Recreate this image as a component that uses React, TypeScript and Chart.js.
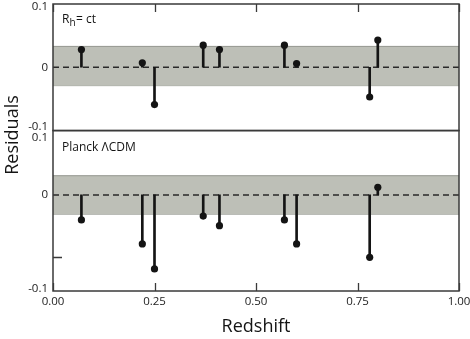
import React, { useEffect, useRef } from "react";
import { Chart, registerables } from "chart.js";

Chart.register(...registerables);

// ---- data ----
const redshift = [0.07, 0.22, 0.25, 0.37, 0.41, 0.57, 0.6, 0.78, 0.8];
const rhResiduals = [0.028, 0.007, -0.059, 0.035, 0.028, 0.035, 0.006, -0.047, 0.043];
const lcdmResiduals = [-0.026, -0.051, -0.077, -0.022, -0.032, -0.026, -0.051, -0.065, 0.008];

const rhBand = [-0.029, 0.033];
const lcdmBand = [-0.02, 0.02];

const xRange = [0, 1];
const xTickValues = [0, 0.25, 0.5, 0.75, 1];
const topRange = [-0.1, 0.1];
const topTickValues = [-0.094, 0, 0.095];
const topTickLabels = ["-0.1", "0", "0.1"];
const botRange = [-0.1, 0.067];
const botTickValues = [-0.098, 0, 0.06];
const botTickLabels = ["-0.1", "0", "0.1"];
const botMinorTicks = [-0.065];

const panelTitles = ["Planck \u039BCDM"];

const FONT = "'Open Sans', 'DejaVu Sans', sans-serif";
const INK = "#141414";
const FRAME = "#3a3a3a";
const BAND = "#bdbfb7";
const BAND_EDGE = "#94968f";

const stems = (vals: number[]) => redshift.map((x, i) => ({ x, y: [0, vals[i]] }));
const dots = (vals: number[]) => redshift.map((x, i) => ({ x, y: vals[i] }));
const hline = (v: number) => [
  { x: xRange[0], y: v },
  { x: xRange[1], y: v },
];

const decorPlugin = {
  id: "decor",
  afterDatasetsDraw(chart: any) {
    const ctx = chart.ctx as CanvasRenderingContext2D;
    const { left, right } = chart.chartArea;
    const xs = chart.scales.x;
    const yT = chart.scales.yTop;
    const yB = chart.scales.yBot;
    ctx.save();
    ctx.strokeStyle = FRAME;
    ctx.lineWidth = 1.5;
    for (const s of [yT, yB]) {
      ctx.strokeRect(left, s.top, right - left, s.bottom - s.top);
    }
    ctx.lineWidth = 1.3;
    ctx.beginPath();
    for (const v of xTickValues) {
      const px = Math.round(xs.getPixelForValue(v)) + 0.5;
      ctx.moveTo(px, yT.top);
      ctx.lineTo(px, yT.top + 8);
      ctx.moveTo(px, yB.bottom);
      ctx.lineTo(px, yB.bottom - 8);
    }
    for (const v of botMinorTicks) {
      const py = Math.round(yB.getPixelForValue(v)) + 0.5;
      ctx.moveTo(left, py);
      ctx.lineTo(left + 9, py);
    }
    ctx.stroke();

    // panel labels
    ctx.fillStyle = INK;
    ctx.textAlign = "left";
    ctx.textBaseline = "alphabetic";
    ctx.font = `12px ${FONT}`;
    let x0 = left + 9;
    const by = yT.top + 19;
    ctx.fillText("R", x0, by);
    x0 += ctx.measureText("R").width;
    ctx.font = `10px ${FONT}`;
    ctx.fillText("h", x0, by + 3);
    x0 += ctx.measureText("h").width + 0.5;
    ctx.font = `12px ${FONT}`;
    ctx.fillText("= ct", x0, by);

    ctx.fillText(panelTitles[0], left + 9, yB.top + 20);

    // y title
    ctx.font = `18px ${FONT}`;
    ctx.textAlign = "center";
    ctx.textBaseline = "middle";
    ctx.translate(12.5, 135);
    ctx.rotate(-Math.PI / 2);
    ctx.fillText("Residuals", 0, 0);
    ctx.restore();
  },
};

export default function App() {
  const ref = useRef<HTMLCanvasElement>(null);
  useEffect(() => {
    if (!ref.current) return;
    const common = { pointRadius: 0, pointHoverRadius: 0, fill: false };
    const chart = new Chart(ref.current, {
      type: "bar",
      data: {
        datasets: [
          // dots
          { type: "line", data: dots(rhResiduals), yAxisID: "yTop", showLine: false, pointRadius: 3.6, pointBackgroundColor: INK, pointBorderWidth: 0, order: 0 } as any,
          { type: "line", data: dots(lcdmResiduals), yAxisID: "yBot", showLine: false, pointRadius: 3.6, pointBackgroundColor: INK, pointBorderWidth: 0, order: 0 } as any,
          // stems
          { type: "bar", data: stems(rhResiduals), yAxisID: "yTop", backgroundColor: INK, barThickness: 2, grouped: false, order: 1 } as any,
          { type: "bar", data: stems(lcdmResiduals), yAxisID: "yBot", backgroundColor: INK, barThickness: 2, grouped: false, order: 1 } as any,
          // zero lines
          { type: "line", data: hline(0), yAxisID: "yTop", borderColor: "#2a2a2a", borderWidth: 1.5, borderDash: [6, 4], ...common, order: 2 } as any,
          { type: "line", data: hline(0), yAxisID: "yBot", borderColor: "#2a2a2a", borderWidth: 1.5, borderDash: [6, 4], ...common, order: 2 } as any,
          // bands
          { type: "line", data: hline(rhBand[1]), yAxisID: "yTop", borderColor: BAND_EDGE, borderWidth: 1, ...common, fill: "+1", backgroundColor: BAND, order: 3 } as any,
          { type: "line", data: hline(rhBand[0]), yAxisID: "yTop", borderColor: BAND_EDGE, borderWidth: 1, ...common, order: 3 } as any,
          { type: "line", data: hline(lcdmBand[1]), yAxisID: "yBot", borderColor: BAND_EDGE, borderWidth: 1, ...common, fill: "+1", backgroundColor: BAND, order: 3 } as any,
          { type: "line", data: hline(lcdmBand[0]), yAxisID: "yBot", borderColor: BAND_EDGE, borderWidth: 1, ...common, order: 3 } as any,
        ],
      },
      options: {
        responsive: false,
        animation: false,
        events: [],
        layout: { padding: { top: 3, right: 11, left: 0, bottom: 0 } },
        plugins: { legend: { display: false }, tooltip: { enabled: false } },
        scales: {
          x: {
            type: "linear",
            min: xRange[0],
            max: xRange[1],
            offset: false,
            grid: { display: false, drawTicks: false, offset: false },
            border: { display: false },
            afterBuildTicks: (s: any) => {
              s.ticks = xTickValues.map((value) => ({ value }));
            },
            afterFit: (s: any) => {
              s.height = 48;
              s.paddingLeft = 0;
              s.paddingRight = 0;
            },
            ticks: {
              padding: 4,
              color: "#222",
              font: { family: FONT, size: 11.5 },
              callback: (v: any) => Number(v).toFixed(2),
              maxRotation: 0,
              autoSkip: false,
            },
            title: {
              display: true,
              text: "Redshift",
              color: INK,
              font: { family: FONT, size: 18 },
              padding: { top: 0, bottom: 1.2 },
            },
          },
          yBot: {
            type: "linear",
            position: "left",
            stack: "panels",
            stackWeight: 161,
            min: botRange[0],
            max: botRange[1],
            grid: { display: false, drawTicks: false },
            border: { display: false },
            afterBuildTicks: (s: any) => {
              s.ticks = botTickValues.map((value) => ({ value }));
            },
            afterFit: (s: any) => {
              s.width = 53;
              s.paddingTop = 0;
              s.paddingBottom = 0;
            },
            ticks: {
              padding: 5,
              color: "#222",
              font: { family: FONT, size: 11.5 },
              callback: (_v: any, i: number) => botTickLabels[i],
            },
          },
          yTop: {
            type: "linear",
            position: "left",
            stack: "panels",
            stackWeight: 127,
            min: topRange[0],
            max: topRange[1],
            grid: { display: false, drawTicks: false },
            border: { display: false },
            afterBuildTicks: (s: any) => {
              s.ticks = topTickValues.map((value) => ({ value }));
            },
            afterFit: (s: any) => {
              s.width = 53;
              s.paddingTop = 0;
              s.paddingBottom = 0;
            },
            ticks: {
              padding: 5,
              color: "#222",
              font: { family: FONT, size: 11.5 },
              callback: (_v: any, i: number) => topTickLabels[i],
            },
          },
        },
      } as any,
      plugins: [decorPlugin],
    });
    return () => chart.destroy();
  }, []);

  return (
    <div style={{ position: "absolute", left: 0, top: 0, width: 470, height: 339, background: "#fff" }}>
      <canvas ref={ref} width={470} height={339} />
    </div>
  );
}
